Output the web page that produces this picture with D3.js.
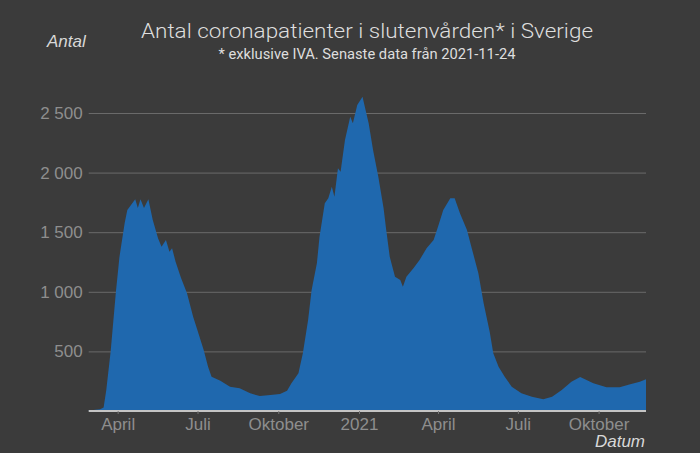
<!DOCTYPE html>
<html>
<head>
<meta charset="utf-8">
<script src="https://cdn.jsdelivr.net/npm/d3@7"></script>
<style>
  html, body { margin: 0; padding: 0; background: #3b3b3b; }
  svg { display: block; }
</style>
</head>
<body>
<svg id="chart" width="700" height="453"></svg>
<script>
const dates = [
  "2020-02-28","2020-03-12","2020-03-16","2020-03-19","2020-03-24","2020-03-30","2020-04-03","2020-04-06",
  "2020-04-09","2020-04-12","2020-04-21","2020-04-24","2020-04-27","2020-05-01","2020-05-06","2020-05-11",
  "2020-05-17","2020-05-21","2020-05-26","2020-05-30","2020-06-02","2020-06-06","2020-06-12","2020-06-19",
  "2020-06-26","2020-07-02","2020-07-08","2020-07-13","2020-07-17","2020-07-27","2020-08-07","2020-08-18",
  "2020-08-30","2020-09-10","2020-09-22","2020-10-03","2020-10-11","2020-10-16","2020-10-24","2020-10-29",
  "2020-11-04","2020-11-08","2020-11-14","2020-11-17","2020-11-23","2020-11-27","2020-12-01","2020-12-04",
  "2020-12-08","2020-12-11","2020-12-16","2020-12-22","2020-12-25","2020-12-30","2021-01-05","2021-01-08",
  "2021-01-12","2021-01-17","2021-01-23","2021-01-29","2021-02-01","2021-02-05","2021-02-11","2021-02-17",
  "2021-02-20","2021-02-24","2021-03-04","2021-03-11","2021-03-19","2021-03-27","2021-04-01","2021-04-07",
  "2021-04-15","2021-04-20","2021-04-26","2021-05-04","2021-05-09","2021-05-17","2021-05-23","2021-05-30",
  "2021-06-03","2021-06-09","2021-06-16","2021-06-24","2021-07-05","2021-07-17","2021-07-30","2021-08-09",
  "2021-08-20","2021-08-31","2021-09-10","2021-09-25","2021-10-10","2021-10-25","2021-11-06","2021-11-17",
  "2021-11-24"
];
const patients = [
  5, 15, 30, 175, 500, 1000, 1290, 1435,
  1577, 1686, 1776, 1703, 1776, 1703, 1776, 1602,
  1449, 1378, 1435, 1337, 1365, 1253, 1120, 987,
  791, 652, 512, 372, 288, 254, 204, 190,
  148, 126, 134, 143, 170, 232, 316, 484,
  763, 1015, 1239, 1462, 1743, 1785, 1882, 1798,
  2036, 2008, 2274, 2469, 2414, 2567, 2637, 2540,
  2414, 2190, 1966, 1700, 1519, 1295, 1127, 1099,
  1043, 1127, 1197, 1267, 1365, 1435, 1546, 1686,
  1785, 1785, 1659, 1519, 1378, 1155, 904, 660,
  484, 372, 288, 204, 148, 120, 98, 120,
  176, 246, 285, 232, 199, 199, 225, 246,
  266
];
const yTicks = [500, 1000, 1500, 2000, 2500];
const xTickDates = ["2020-04-01","2020-07-01","2020-10-01","2021-01-01","2021-04-01","2021-07-01","2021-10-01"];
const xTickLabels = ["April","Juli","Oktober","2021","April","Juli","Oktober"];

const title = "Antal coronapatienter i slutenvården* i Sverige";
const subtitle = "* exklusive IVA. Senaste data från 2021-11-24";

(function () {
const parse = d3.timeParse("%Y-%m-%d");
const data = dates.map((d, i) => ({ date: parse(d), value: patients[i] }));

const svg = d3.select("#chart");
const mLeft = 88.7, mRight = 646, mTop = 113, mBottom = 411;

const x = d3.scaleTime()
  .domain([parse("2020-02-28"), parse("2021-11-24")])
  .range([mLeft, mRight]);
const y = d3.scaleLinear().domain([0, 2500]).range([mBottom, mTop]);

const sv = d3.formatLocale({ decimal: ",", thousands: " ", grouping: [3], currency: ["", " kr"] });
const fmt = sv.format(",d");

svg.append("rect").attr("width", 700).attr("height", 453).attr("fill", "#3b3b3b");

// gridlines + y labels
const yAxis = d3.axisLeft(y).tickValues(yTicks).tickFormat(fmt).tickSize(-(mRight - mLeft)).tickPadding(6);
const gy = svg.append("g").attr("transform", `translate(${mLeft},0)`).call(yAxis);
gy.select(".domain").remove();
gy.selectAll(".tick line").attr("stroke", "#6a6a6a").attr("stroke-width", 1);
gy.selectAll(".tick text")
  .attr("fill", "#8e8e8e")
  .style("font-family", "'Liberation Sans', Arial, sans-serif")
  .style("font-size", "17px");

// area
const area = d3.area()
  .x(d => x(d.date))
  .y0(y(0))
  .y1(d => y(d.value))
  .curve(d3.curveLinear);
svg.append("path").datum(data).attr("d", area).attr("fill", "#1f68ae");

// x axis
const xAxis = d3.axisBottom(x)
  .tickValues(xTickDates.map(parse))
  .tickFormat((d, i) => xTickLabels[i])
  .tickSize(3).tickPadding(4);
const gx = svg.append("g").attr("transform", `translate(0,${mBottom})`).call(xAxis);
gx.select(".domain").attr("stroke", "#c4c4c4").attr("stroke-width", 2).attr("d", `M${mLeft},0H${mRight}`);
gx.selectAll(".tick line").attr("stroke", "#777");
gx.selectAll(".tick text")
  .attr("fill", "#8e8e8e")
  .style("font-family", "'Liberation Sans', Arial, sans-serif")
  .style("font-size", "17px");

// axis titles
svg.append("text").attr("x", 645).attr("y", 447).attr("text-anchor", "end")
  .attr("fill", "#d8d8d8").style("font-family", "'Liberation Sans', Arial, sans-serif")
  .style("font-size", "17px").style("font-style", "italic").text("Datum");
svg.append("text").attr("x", 47).attr("y", 47).attr("text-anchor", "start")
  .attr("fill", "#d8d8d8").style("font-family", "'Liberation Sans', Arial, sans-serif")
  .style("font-size", "17px").style("font-style", "italic").text("Antal");

// title
svg.append("text").attr("x", 367).attr("y", 38).attr("text-anchor", "middle")
  .attr("fill", "#dedede").style("font-family", "Roboto, 'Liberation Sans', sans-serif")
  .style("font-size", "21px").style("font-weight", "300")
  .attr("textLength", 452).attr("lengthAdjust", "spacingAndGlyphs").text(title);
svg.append("text").attr("x", 367).attr("y", 59).attr("text-anchor", "middle")
  .attr("fill", "#dedede").style("font-family", "Roboto, 'Liberation Sans', sans-serif")
  .style("font-size", "14px")
  .attr("textLength", 297).attr("lengthAdjust", "spacingAndGlyphs").text(subtitle);
})();
</script>
</body>
</html>
